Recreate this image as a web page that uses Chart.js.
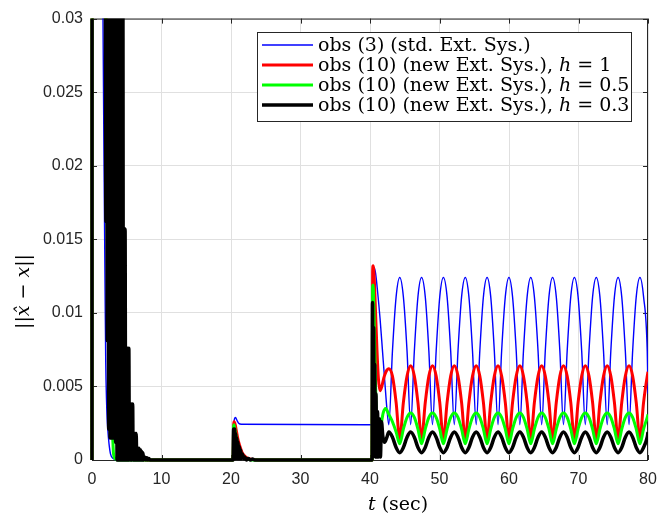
<!DOCTYPE html>
<html>
<head>
<meta charset="utf-8">
<script src="https://cdn.jsdelivr.net/npm/chart.js@4.4.1/dist/chart.umd.min.js"></script>
<style>
  html, body { margin: 0; padding: 0; background: #fff; }
  #wrap { width: 670px; height: 515px; }
</style>
</head>
<body>
<div id="wrap"><canvas id="chart" width="670" height="515"></canvas></div>
<script>
// ---- AXES ----
const xTicks = [0, 10, 20, 30, 40, 50, 60, 70, 80];
const xTickLabels = ["0", "10", "20", "30", "40", "50", "60", "70", "80"];
const yTicks = [0, 0.005, 0.01, 0.015, 0.02, 0.025, 0.03];
const yTickLabels = ["0", "0.005", "0.01", "0.015", "0.02", "0.025", "0.03"];

// ---- SERIES NAMES ----
const seriesNames = ["obs (3) (std. Ext. Sys.)", "obs (10) (new Ext. Sys.), ", "obs (10) (new Ext. Sys.), ", "obs (10) (new Ext. Sys.), "];
const seriesH     = ["", "1", "0.5", "0.3"];

// ---- TRANSIENTS (t, value) ----
const blueStart = [[0,0.08],[1.5,0.033],[1.58,0.03],[1.7,0.022],[1.8,0.0162],[1.9,0.0105],[1.98,0.0065],[2.08,0.0042],
  [2.18,0.0028],[2.28,0.002],[2.45,0.0011],[2.67,0.0004],[3.0,0.00012],[3.7,0],
  [20.3,0],[20.4,0.0022],[20.5,0.0028],[20.65,0.0029],[20.85,0.0027],[21.1,0.0025],[21.5,0.00243],
  [40.33,0.0024],[40.4,0.0127],[40.55,0.0131],[40.8,0.0127],[41.1,0.0114],[41.45,0.0096],[41.8,0.0074],[42.15,0.0052],[42.45,0.0034]];

const redStart = [[0,0],[0.03,0.08],[1.95,0.034],[2.1,0.025],[2.4,0.015],[2.8,0.009],[3.2,0.006],[3.6,0.004],[4.0,0.0028],
  [4.5,0.0018],[5.0,0.001],[5.5,0.0005],[6.0,0.0002],[7.0,0.00005],[8.0,0],
  [20.3,0],[20.38,0.0024],[20.45,0.0026],[20.6,0.0024],[20.8,0.0019],[21.0,0.0014],[21.3,0.0009],[21.6,0.0005],
  [22.0,0.00025],[22.5,0.0001],[23.5,0.00002],[24.5,0],
  [40.3,0],[40.38,0.0128],[40.45,0.0132],[40.6,0.0124],[40.8,0.01],[41.0,0.0075],[41.2,0.0056],[41.45,0.0047],
  [41.7,0.005],[42.0,0.0056],[42.3,0.006]];

const greenStart = [[0,0],[0.03,0.08],[1.95,0.034],[2.1,0.02],[2.4,0.008],[2.7,0.003],[2.9,0.002],[3.0,0.0013],[3.1,0.0004],
  [3.3,0.0001],[3.8,0],
  [20.3,0],[20.38,0.0023],[20.42,0.0024],[20.55,0.0021],[20.75,0.0016],[20.95,0.0011],[21.2,0.0007],[21.5,0.0004],
  [22.0,0.00015],[23.0,0],
  [40.3,0],[40.37,0.0118],[40.45,0.0119],[40.55,0.0105],[40.7,0.007],[40.85,0.004],[41.0,0.0022],[41.3,0.0016],
  [41.6,0.0024],[41.9,0.0032],[42.25,0.0035]];

const blackStart = [[0,0],[0.03,0.08],
  [1.90,0.034],[2.00,0.0162],[2.10,0.034],[2.20,0.0081],[2.30,0.034],[2.40,0.0021],[2.50,0.034],[2.60,0.0015],
  [2.70,0.034],[2.80,0.0015],[2.90,0.034],[3.00,0.0015],[3.10,0.034],[3.20,0.0015],[3.30,0.034],[3.40,0.0012],
  [3.50,0.034],[3.60,0],[3.70,0.034],[3.80,0],[3.90,0.034],[4.00,0],[4.10,0.034],[4.20,0],[4.30,0.034],[4.38,0],
  [4.44,0.034],[4.52,0],[4.60,0.0157],[4.68,0],[4.76,0.0157],[4.84,0],[4.92,0.0076],[5.00,0],[5.10,0.0076],[5.20,0],
  [5.30,0.0076],[5.38,0],[5.46,0.0038],[5.55,0],[5.65,0.0038],[5.75,0],[5.85,0.0038],[5.92,0],[6.00,0.0018],[6.10,0],
  [6.20,0.0018],[6.28,0],[6.35,0.0018],[6.45,0],[6.55,0.0008],[6.65,0],[6.75,0.0008],[6.85,0],[6.95,0.0007],[7.05,0],
  [7.15,0.0006],[7.25,0],[7.32,0.0005],[7.45,0],[7.60,0.0002],[7.75,0],[7.90,0.00015],[8.05,0],[8.20,0.0001],[8.30,0],
  [20.3,0],[20.38,0.0021],[20.45,0.0001],[20.52,0.0021],[20.6,0.0001],[20.68,0.0018],[20.76,0.0001],[20.84,0.0015],
  [20.92,0.0001],[21.0,0.0012],[21.1,0.0001],[21.2,0.0009],[21.3,0.0001],[21.4,0.0007],[21.5,0.0001],[21.65,0.0004],
  [21.8,0.0001],[22.0,0.0002],[22.2,0],[22.5,0.0001],[22.8,0],[23.1,0.00006],[23.4,0],
  [40.3,0],[40.36,0.0107],[40.44,0.0004],[40.52,0.009],[40.6,0.0003],[40.68,0.0065],[40.76,0.0002],[40.86,0.0045],
  [40.96,0.0002],[41.08,0.0033],[41.2,0.0002],[41.35,0.0028],[41.5,0.0002],[41.65,0.0026],[41.85,0.0016],[42.1,0.0012],
  [42.4,0.0015]];

// ---- STEADY OSCILLATION (shared time grid) ----
const tOsc = [42.71,43.23,43.76,44.28,44.80,45.33, 45.85,46.38,46.90,47.42,47.95,48.47,
  48.99,49.52,50.04,50.56,51.09,51.61, 52.13,52.66,53.18,53.71,54.23,54.75,
  55.28,55.80,56.32,56.85,57.37,57.89, 58.42,58.94,59.47,59.99,60.51,61.04,
  61.56,62.08,62.61,63.13,63.65,64.18, 64.70,65.22,65.75,66.27,66.80,67.32,
  67.84,68.37,68.89,69.41,69.94,70.46, 70.98,71.51,72.03,72.56,73.08,73.60,
  74.13,74.65,75.17,75.70,76.22,76.74, 77.27,77.79,78.31,78.84,79.36,79.89, 80];

const blueOsc = [0.0024,0.0074,0.0111,0.0124,0.0111,0.0074, 0.0024,0.0074,0.0111,0.0124,0.0111,0.0074,
  0.0024,0.0074,0.0111,0.0124,0.0111,0.0074, 0.0024,0.0074,0.0111,0.0124,0.0111,0.0074,
  0.0024,0.0074,0.0111,0.0124,0.0111,0.0074, 0.0024,0.0074,0.0111,0.0124,0.0111,0.0074,
  0.0024,0.0074,0.0111,0.0124,0.0111,0.0074, 0.0024,0.0074,0.0111,0.0124,0.0111,0.0074,
  0.0024,0.0074,0.0111,0.0124,0.0111,0.0074, 0.0024,0.0074,0.0111,0.0124,0.0111,0.0074,
  0.0024,0.0074,0.0111,0.0124,0.0111,0.0074, 0.0024,0.0074,0.0111,0.0124,0.0111,0.0074, 0.0045];

const redOsc = [0.0062,0.0057,0.0039,0.0014,0.0039,0.0057, 0.0064,0.0057,0.0039,0.0014,0.0039,0.0057,
  0.0064,0.0057,0.0039,0.0014,0.0039,0.0057, 0.0064,0.0057,0.0039,0.0014,0.0039,0.0057,
  0.0064,0.0057,0.0039,0.0014,0.0039,0.0057, 0.0064,0.0057,0.0039,0.0014,0.0039,0.0057,
  0.0064,0.0057,0.0039,0.0014,0.0039,0.0057, 0.0064,0.0057,0.0039,0.0014,0.0039,0.0057,
  0.0064,0.0057,0.0039,0.0014,0.0039,0.0057, 0.0064,0.0057,0.0039,0.0014,0.0039,0.0057,
  0.0064,0.0057,0.0039,0.0014,0.0039,0.0057, 0.0064,0.0057,0.0039,0.0014,0.0039,0.0057, 0.0060];

const greenOsc = [0.0031,0.0026,0.0019,0.0011,0.0021,0.0029, 0.0032,0.0029,0.0021,0.0011,0.0021,0.0029,
  0.0032,0.0029,0.0021,0.0011,0.0021,0.0029, 0.0032,0.0029,0.0021,0.0011,0.0021,0.0029,
  0.0032,0.0029,0.0021,0.0011,0.0021,0.0029, 0.0032,0.0029,0.0021,0.0011,0.0021,0.0029,
  0.0032,0.0029,0.0021,0.0011,0.0021,0.0029, 0.0032,0.0029,0.0021,0.0011,0.0021,0.0029,
  0.0032,0.0029,0.0021,0.0011,0.0021,0.0029, 0.0032,0.0029,0.0021,0.0011,0.0021,0.0029,
  0.0032,0.0029,0.0021,0.0011,0.0021,0.0029, 0.0032,0.0029,0.0021,0.0011,0.0021,0.0029, 0.0031];

const blackOsc = [0.0019,0.00155,0.00085,0.0005,0.00085,0.00155, 0.0019,0.00155,0.00085,0.0005,0.00085,0.00155,
  0.0019,0.00155,0.00085,0.0005,0.00085,0.00155, 0.0019,0.00155,0.00085,0.0005,0.00085,0.00155,
  0.0019,0.00155,0.00085,0.0005,0.00085,0.00155, 0.0019,0.00155,0.00085,0.0005,0.00085,0.00155,
  0.0019,0.00155,0.00085,0.0005,0.00085,0.00155, 0.0019,0.00155,0.00085,0.0005,0.00085,0.00155,
  0.0019,0.00155,0.00085,0.0005,0.00085,0.00155, 0.0019,0.00155,0.00085,0.0005,0.00085,0.00155,
  0.0019,0.00155,0.00085,0.0005,0.00085,0.00155, 0.0019,0.00155,0.00085,0.0005,0.00085,0.00155, 0.0019];

// ---- STYLE ----
const AXIS_COLOR = "#262626";
const GRID_COLOR = "#e0e0e0";
const SANS = "'Liberation Sans', Arial, sans-serif";
const SERIF = "'DejaVu Serif', serif";
const SERIF_PX = 19;

const pairs = arr => arr.map(p => ({ x: p[0], y: p[1] }));
const grid  = vals => tOsc.map((t, i) => ({ x: t, y: vals[i] }));

function mkSet(i, color, width, start, osc, order){
  return {
    label: seriesNames[i] + (seriesH[i] ? "h = " + seriesH[i] : ""),
    data: pairs(start).concat(grid(osc)),
    borderColor: color,
    borderWidth: width,
    pointRadius: 0,
    fill: false,
    order: order,
    borderJoinStyle: "round",
    cubicInterpolationMode: "monotone",
    clip: { left: 2, right: 0, top: 0, bottom: 2 }
  };
}

const datasets = [
  mkSet(0, "#0000ff", 1.4, blueStart, blueOsc, 4),
  mkSet(1, "#ff0000", 3, redStart, redOsc, 3),
  mkSet(2, "#00ff00", 3, greenStart, greenOsc, 2),
  mkSet(3, "#000000", 3.5, blackStart, blackOsc, 1)
];

// draw text made of upright / italic parts, returns end x
function drawParts(ctx, parts, x, y){
  parts.forEach(p => {
    ctx.font = (p.it ? "italic " : "") + SERIF_PX + "px " + SERIF;
    ctx.fillText(p.s, x, y);
    x += ctx.measureText(p.s).width;
  });
  return x;
}
function partsWidth(ctx, parts){
  let w = 0;
  parts.forEach(p => { ctx.font = (p.it ? "italic " : "") + SERIF_PX + "px " + SERIF; w += ctx.measureText(p.s).width; });
  return w;
}

const decor = {
  id: "decor",
  beforeDatasetsDraw(chart){
    const { ctx, chartArea: a, scales } = chart;
    ctx.save();
    ctx.strokeStyle = AXIS_COLOR;
    ctx.lineWidth = 1;
    ctx.strokeRect(a.left + 0.5, a.top + 0.5, a.right - a.left - 1, a.bottom - a.top);
    ctx.beginPath();
    xTicks.forEach(v => {
      const px = Math.round(scales.x.getPixelForValue(v)) + 0.5;
      ctx.moveTo(px, a.bottom); ctx.lineTo(px, a.bottom - 5);
      ctx.moveTo(px, a.top); ctx.lineTo(px, a.top + 5);
    });
    yTicks.forEach(v => {
      const py = Math.round(scales.y.getPixelForValue(v)) + 0.5;
      ctx.moveTo(a.left, py); ctx.lineTo(a.left + 5, py);
      ctx.moveTo(a.right, py); ctx.lineTo(a.right - 5, py);
    });
    ctx.stroke();
    ctx.restore();
  },
  afterDraw(chart){
    const { ctx } = chart;
    ctx.save();
    // legend box
    const bx = 257.5, by = 32.5, bw = 374, bh = 89;
    ctx.fillStyle = "#fff";
    ctx.fillRect(bx, by, bw, bh);
    ctx.strokeStyle = AXIS_COLOR;
    ctx.lineWidth = 1;
    ctx.strokeRect(bx, by, bw, bh);
    ctx.textBaseline = "alphabetic";
    ctx.textAlign = "left";
    chart.data.datasets.forEach((ds, i) => {
      const ry = 45 + 20 * i;
      ctx.strokeStyle = ds.borderColor;
      ctx.lineWidth = ds.borderWidth;
      ctx.beginPath(); ctx.moveTo(262, ry); ctx.lineTo(313, ry); ctx.stroke();
      ctx.fillStyle = "#000";
      const parts = [{ s: seriesNames[i] }];
      if (seriesH[i]) parts.push({ s: "h", it: true }, { s: " = " + seriesH[i] });
      drawParts(ctx, parts, 318, ry + 6);
    });
    // axis titles
    ctx.fillStyle = "#000";
    drawParts(ctx, [{ s: "t", it: true }, { s: " (sec)" }], 368, 510);
    const yParts = [{ s: "||" }, { s: "x\u0302", it: true }, { s: " \u2212 " }, { s: "x", it: true }, { s: "||" }];
    ctx.translate(29, 291.5);
    ctx.rotate(-Math.PI / 2);
    drawParts(ctx, yParts, -partsWidth(ctx, yParts) / 2, 0);
    ctx.restore();
  }
};

new Chart(document.getElementById("chart").getContext("2d"), {
  type: "line",
  data: { datasets },
  options: {
    responsive: false,
    animation: false,
    devicePixelRatio: 1,
    layout: { padding: { left: 0, right: 22, top: 15, bottom: 0 } },
    plugins: { legend: { display: false }, tooltip: { enabled: false } },
    scales: {
      x: {
        type: "linear", min: 0, max: 80,
        afterBuildTicks: s => { s.ticks = xTicks.map(v => ({ value: v })); },
        afterFit: s => { s.height = 55; },
        grid: { color: GRID_COLOR, drawTicks: false },
        border: { display: false },
        ticks: { autoSkip: false, maxRotation: 0, padding: 10, color: AXIS_COLOR,
          font: { family: SANS, size: 16 }, callback: v => xTickLabels[xTicks.indexOf(v)] }
      },
      y: {
        type: "linear", min: 0, max: 0.03,
        afterBuildTicks: s => { s.ticks = yTicks.map(v => ({ value: v })); },
        afterFit: s => { s.width = 92; },
        grid: { color: GRID_COLOR, drawTicks: false },
        border: { display: false },
        ticks: { autoSkip: false, padding: 9, color: AXIS_COLOR,
          font: { family: SANS, size: 16 }, callback: v => yTickLabels[yTicks.indexOf(v)] }
      }
    }
  },
  plugins: [decor]
});
</script>
</body>
</html>
